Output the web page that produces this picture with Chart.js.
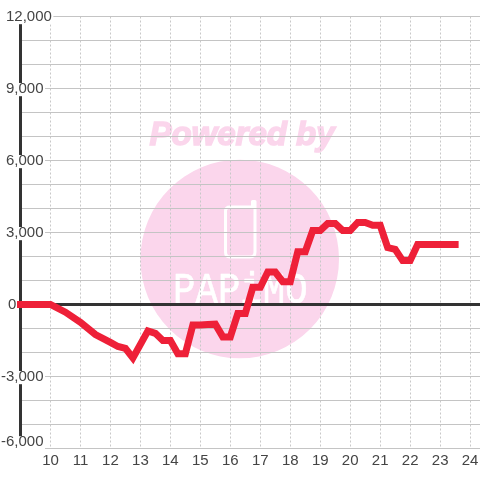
<!DOCTYPE html>
<html>
<head>
<meta charset="utf-8">
<style>
html, body { margin: 0; padding: 0; background: #fff; }
canvas { display: block; }
</style>
<script src="https://cdn.jsdelivr.net/npm/chart.js@4"></script>
</head>
<body>
<canvas id="chart" width="480" height="480"></canvas>
<script>
var hours = [9, 10, 10.5, 11, 11.5, 12, 12.25, 12.5, 12.75, 13.25, 13.5, 13.75, 14, 14.25, 14.5, 14.75,
    15, 15.25, 15.5, 15.75, 16, 16.25, 16.5, 16.75, 17, 17.25, 17.5, 17.75, 18, 18.25, 18.5, 18.75,
    19, 19.25, 19.5, 19.75, 20, 20.25, 20.5, 20.75, 21, 21.25, 21.5, 21.75, 22, 22.25, 22.5, 23, 23.5];
var profit = [0, 0, -320, -740, -1250, -1580, -1750, -1830, -2230, -1100, -1200, -1500, -1500, -2050, -2050, -850,
    -850, -830, -820, -1350, -1350, -370, -370, 720, 720, 1350, 1350, 950, 950, 2200, 2200, 3080,
    3080, 3380, 3380, 3080, 3080, 3420, 3420, 3300, 3300, 2370, 2300, 1830, 1830, 2500, 2500, 2500, 2500];
var hourTicks = [10, 11, 12, 13, 14, 15, 16, 17, 18, 19, 20, 21, 22, 23, 24];
var profitTicks = [12000, 9000, 6000, 3000, 0, -3000, -6000];

var FONT = '"Liberation Sans", Arial, sans-serif';

// Watermark sits under the grid, so it goes in before anything else.
var watermark = {
    id: 'watermark',
    beforeDraw: function (chart) {
        var c = chart.ctx;
        c.save();
        c.fillStyle = '#fbd6ec';
        c.beginPath();
        c.arc(239.7, 259, 99.3, 0, Math.PI * 2);
        c.fill();

        c.font = 'italic bold 33px ' + FONT;
        c.textAlign = 'center';
        c.textBaseline = 'alphabetic';
        c.lineWidth = 1.5;
        c.strokeStyle = '#fbd6ec';
        c.fillText('Powered by', 242, 145);
        c.strokeText('Powered by', 242, 145);

        // phone outline
        c.strokeStyle = '#ffffff';
        c.lineWidth = 3;
        c.lineJoin = 'round';
        c.lineCap = 'round';
        c.beginPath();
        c.moveTo(252, 207);
        c.lineTo(230, 207);
        c.quadraticCurveTo(225.5, 207, 225.5, 211);
        c.lineTo(225.5, 252);
        c.quadraticCurveTo(225.5, 257, 230, 257);
        c.lineTo(250, 257);
        c.quadraticCurveTo(255, 257, 255, 252);
        c.lineTo(255, 201.5);
        c.lineTo(252.5, 201.5);
        c.lineTo(252.5, 207);
        c.stroke();

        // stretched a bit narrower than the mono font
        c.translate(173, 303);
        c.scale(0.85, 1);
        c.fillStyle = '#ffffff';
        c.strokeStyle = '#ffffff';
        c.lineWidth = 0.6;
        c.font = '44px "Liberation Mono", monospace';
        c.textAlign = 'left';
        c.fillText('PAPiMO', 0, 0);
        c.strokeText('PAPiMO', 0, 0);
        c.restore();
    }
};

// Y labels overlap the axis and blank it out behind them.
var yLabels = {
    id: 'yLabels',
    afterDraw: function (chart) {
        var c = chart.ctx;
        var y = chart.scales.y;
        c.save();
        c.font = '15px ' + FONT;
        c.textBaseline = 'middle';
        c.textAlign = 'left';
        profitTicks.forEach(function (v) {
            var text = v.toLocaleString('en-US');
            var w = c.measureText(text).width;
            var left = v < 0 ? 1 : (v === 0 ? 8 : 6);
            var py = Math.min(y.getPixelForValue(v), 441.7);
            if (v !== 0) {
                c.fillStyle = '#ffffff';
                c.fillRect(left, py - 5.5, w + 1.5, 13.2);
            }
            c.fillStyle = '#444444';
            c.fillText(text, left, py + 0.5);
        });
        c.restore();
    }
};

new Chart(document.getElementById('chart'), {
    type: 'line',
    data: {
        datasets: [{
            data: hours.map(function (h, i) { return { x: h, y: profit[i] }; }),
            borderColor: '#ee2038',
            borderWidth: 7,
            borderCapStyle: 'square',
            borderJoinStyle: 'miter',
            pointRadius: 0,
            tension: 0,
            clip: false
        }]
    },
    options: {
        responsive: false,
        animation: false,
        layout: { padding: { top: 16.5, right: 0, left: 0, bottom: 0 } },
        plugins: { legend: { display: false }, tooltip: { enabled: false } },
        scales: {
            x: {
                type: 'linear',
                min: 9,
                max: 24.33,
                afterFit: function (s) { s.height = 31.5; s.paddingRight = 0; s.paddingLeft = 0; },
                border: { display: false, dash: [2, 2] },
                grid: { color: '#c8c8c8', lineWidth: 1, drawTicks: false },
                afterBuildTicks: function (s) {
                    s.ticks = hourTicks.map(function (h) { return { value: h }; });
                },
                ticks: {
                    autoSkip: false,
                    maxRotation: 0,
                    padding: 3,
                    color: '#444444',
                    font: { family: FONT, size: 15 }
                }
            },
            y: {
                min: -6000,
                max: 12000,
                afterFit: function (s) { s.width = 20.5; },
                border: { display: true, color: '#333333', width: 3 },
                grid: {
                    drawTicks: false,
                    color: function (ctx) { return ctx.tick.value === 0 ? '#333333' : '#c4c4c4'; },
                    lineWidth: function (ctx) { return ctx.tick.value === 0 ? 3 : 1; }
                },
                ticks: { stepSize: 1000, display: false }
            }
        }
    },
    plugins: [watermark, yLabels]
});
</script>
</body>
</html>
